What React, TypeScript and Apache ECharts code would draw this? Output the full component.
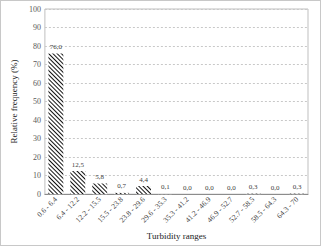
import React, { useEffect, useRef } from "react";
import * as echarts from "echarts";

const categories = [
  "0.6 - 6.4", "6.4 - 12.2", "12.2 - 15.5", "15.5 - 23.8", "23.8 - 29.6",
  "29.6 - 35.3", "35.3 - 41.2", "41.2 - 46.9", "46.9 - 52.7", "52.7 - 58.5",
  "58.5 - 64.3", "64.3 - 70",
];
const values = [76.0, 12.5, 5.8, 0.7, 4.4, 0.1, 0.0, 0.0, 0.0, 0.3, 0.0, 0.3];
const yTicks = [0, 10, 20, 30, 40, 50, 60, 70, 80, 90, 100];

const FONT = "'Liberation Serif', 'Times New Roman', serif";

export default function App() {
  const ref = useRef<HTMLDivElement>(null);
  useEffect(() => {
    document.body.style.margin = "0";
    const chart = echarts.init(ref.current!, null, { renderer: "svg" });
    chart.setOption({
      animation: false,
      backgroundColor: "#fff",
      grid: {
        left: 24, right: 12, top: 8, bottom: 41,
        show: true, borderColor: "#bfbfbf", borderWidth: 1,
      },
      xAxis: {
        type: "category",
        data: categories,
        name: "Turbidity ranges",
        nameLocation: "middle",
        nameGap: 34,
        nameTextStyle: { fontFamily: FONT, fontSize: 9, color: "#222" },
        axisLine: { lineStyle: { color: "#8c8c8c" } },
        axisTick: { show: false },
        axisLabel: {
          rotate: 45, interval: 0, fontFamily: FONT, fontSize: 7.5, color: "#404040", margin: 4,
        },
      },
      yAxis: {
        type: "value",
        min: yTicks[0], max: yTicks[yTicks.length - 1], interval: 10,
        name: "Relative frequency (%)",
        nameLocation: "middle",
        nameGap: 20,
        nameTextStyle: { fontFamily: FONT, fontSize: 9, color: "#222" },
        axisLine: { show: false },
        axisTick: { show: false },
        axisLabel: { fontFamily: FONT, fontSize: 8, color: "#595959", margin: 4 },
        splitLine: { lineStyle: { color: "#c8c8c8", type: [2, 2] } },
      },
      series: [
        {
          type: "bar",
          data: values,
          barCategoryGap: "32%",
          itemStyle: {
            color: "#ffffff",
            decal: {
              symbol: "rect",
              color: "#111",
              backgroundColor: "#fff",
              dashArrayX: [1, 0],
              dashArrayY: [1, 1.3],
              rotation: Math.PI / 4,
              symbolSize: 1,
            },
          },
          label: {
            show: true,
            position: "top",
            distance: 3,
            fontFamily: FONT,
            fontSize: 7,
            color: "#404040",
            formatter: (p: any) => Number(p.value).toFixed(1).replace(".", ","),
          },
        },
      ],
    });
    return () => chart.dispose();
  }, []);
  return (
    <div
      ref={ref}
      style={{
        position: "absolute", left: 0, top: 0, width: 321, height: 246,
        boxSizing: "border-box", border: "1px solid #c8c8c8",
      }}
    />
  );
}
